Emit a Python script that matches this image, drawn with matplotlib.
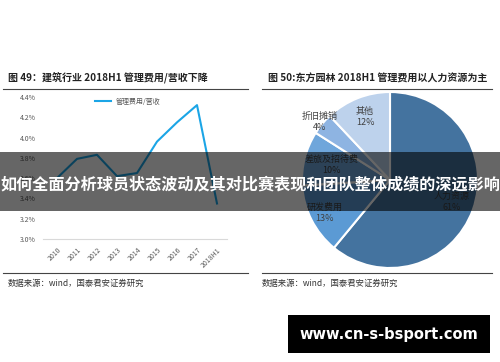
import matplotlib
matplotlib.use("Agg")
import matplotlib.pyplot as plt
import numpy as np
from matplotlib.patches import Rectangle

plt.rcParams['font.family'] = ['Noto Sans CJK SC', 'DejaVu Sans']

# left chart: admin expense / revenue
years = ['2010', '2011', '2012', '2013', '2014', '2015', '2016', '2017', '2018H1']
ratio = [3.60, 3.79, 3.83, 3.62, 3.65, 3.96, 4.15, 4.32, 3.35]
yticks = [3.0, 3.2, 3.4, 3.6, 3.8, 4.0, 4.2, 4.4]

# right chart: expense composition
pie_labels = ['人力资源', '研发费用', '差旅及招待费', '折旧摊销', '其他']
pie_share = [61, 13, 10, 4, 12]
pie_colors = ['#44739F', '#5B9AD4', '#6FA6DB', '#8EB4E2', '#BDD2EC']
label_radius = [0.74, 0.83, 0.69, 1.04, 0.77]

W, H = 500, 362


def px_rect(x0, y0, x1, y1):
    # pixel box (top-left origin) -> figure fraction rect
    return [x0 / W, 1 - y1 / H, (x1 - x0) / W, (y1 - y0) / H]


fig = plt.figure(figsize=(W / 100, H / 100), dpi=100)
fig.patch.set_facecolor('white')

# ---- left line chart ----
ax = fig.add_axes(px_rect(43, 97, 227, 239))
x = np.arange(len(years))
ax.plot(x, ratio, color='#1BA5E6', lw=1.5, label='管理费用/营收')
ax.set_xlim(-0.7, 8.5)
ax.set_ylim(3.0, 4.4)
ax.set_yticks(yticks)
ax.set_yticklabels([f'{v:.1f}%' for v in yticks])
ax.set_xticks(x)
ax.set_xticklabels(years, rotation=45, ha='right', rotation_mode='anchor')
ax.tick_params(length=0, labelsize=5, colors='#595959', pad=5)
for s in ['top', 'right', 'left']:
    ax.spines[s].set_visible(False)
ax.spines['bottom'].set_color('#D9D9D9')
ax.spines['bottom'].set_linewidth(0.8)
ax.legend(loc='upper left', bbox_to_anchor=(0.25, 1.04), frameon=False,
          fontsize=5, handlelength=2.2, labelcolor='#595959')

fig.text(8 / W, 1 - 77 / H, '图 49：建筑行业 2018H1 管理费用/营收下降',
         fontsize=7.2, fontweight='bold', color='#222222', va='center')
fig.text(8 / W, 1 - 283 / H, '数据来源：wind，国泰君安证券研究',
         fontsize=6, color='#333333', va='center')

# ---- right pie chart ----
ax2 = fig.add_axes(px_rect(302, 92, 478, 268))
wedges, _ = ax2.pie(pie_share, colors=pie_colors, startangle=90, counterclock=False,
                    wedgeprops=dict(edgecolor='white', linewidth=1.5))
ax2.set_xlim(-1, 1)
ax2.set_ylim(-1, 1)
for w, name, share, r in zip(wedges, pie_labels, pie_share, label_radius):
    mid = np.deg2rad((w.theta1 + w.theta2) / 2)
    ax2.text(r * np.cos(mid), r * np.sin(mid), f'{name}\n{share}%',
             ha='center', va='center', fontsize=6.5, color='#404040', linespacing=1.3)

fig.text(268 / W, 1 - 79 / H, '图 50:东方园林 2018H1 管理费用以人力资源为主',
         fontsize=7.2, fontweight='bold', color='#222222', va='center')
fig.text(262 / W, 1 - 283 / H, '数据来源：wind，国泰君安证券研究',
         fontsize=6, color='#333333', va='center')

# horizontal rules
for x0, x1 in [(3, 248), (262, 492)]:
    fig.add_artist(plt.Line2D([x0 / W, x1 / W], [1 - 89 / H] * 2, color='#444444', lw=0.8))
    fig.add_artist(plt.Line2D([x0 / W, x1 / W], [1 - 273 / H] * 2, color='#444444', lw=0.8))

# overlay banner
fig.add_artist(Rectangle((0, 1 - 211 / H), 1, 59 / H, transform=fig.transFigure,
                         facecolor='black', alpha=0.6, edgecolor='none'))
fig.text(0.5, 1 - 184 / H, '如何全面分析球员状态波动及其对比赛表现和团队整体成绩的深远影响',
         ha='center', va='center', fontsize=11.6, fontweight='bold', color='white')

# watermark box
fig.add_artist(Rectangle((288 / W, 1 - 353 / H), 202 / W, 38 / H, transform=fig.transFigure,
                         facecolor='black', edgecolor='none'))
fig.text(389 / W, 1 - 334 / H, 'www.cn-s-bsport.com', ha='center', va='center',
         fontsize=10.5, fontweight='bold', color='white', family='DejaVu Sans')

fig.savefig('out.png', dpi=100, facecolor='white')
